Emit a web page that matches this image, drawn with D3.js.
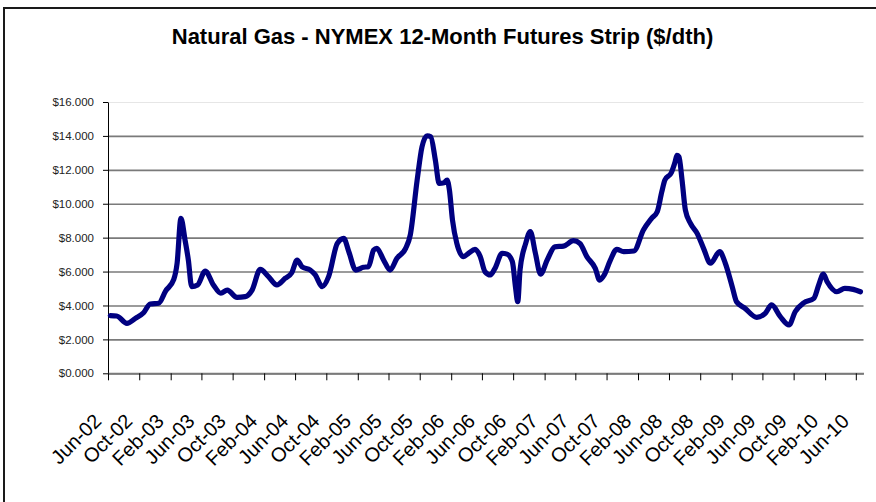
<!DOCTYPE html>
<html>
<head>
<meta charset="utf-8">
<script src="https://cdn.jsdelivr.net/npm/d3@7"></script>
<style>
  body { margin: 0; background: #fff; }
  svg { display: block; font-family: "Liberation Sans", Arial, sans-serif; }
</style>
</head>
<body>
<svg width="876" height="502"></svg>
<script>
'use strict'

const title = 'Natural Gas - NYMEX 12-Month Futures Strip ($/dth)'

// dates and prices
const dates = [
  '2002-06-10', '2002-07-05', '2002-08-14', '2002-09-16', '2002-10-18', '2002-11-13', '2002-12-16',
  '2003-01-12', '2003-02-13', '2003-02-26', '2003-03-13', '2003-03-29', '2003-04-11', '2003-04-24',
  '2003-05-17', '2003-06-16', '2003-07-18', '2003-08-16', '2003-09-10', '2003-10-18', '2003-11-19',
  '2003-12-16', '2004-01-17', '2004-02-18', '2004-03-22', '2004-04-23', '2004-05-19', '2004-06-09',
  '2004-06-28', '2004-07-30', '2004-08-19', '2004-09-15', '2004-10-10', '2004-11-13', '2004-12-08',
  '2004-12-28', '2005-01-24', '2005-02-23', '2005-03-15', '2005-04-04', '2005-04-16', '2005-05-13',
  '2005-06-07', '2005-07-04', '2005-08-07', '2005-08-25', '2005-09-21', '2005-10-10', '2005-10-30',
  '2005-11-13', '2005-12-01', '2005-12-16', '2006-01-04', '2006-01-16', '2006-01-25', '2006-02-06',
  '2006-02-23', '2006-03-21', '2006-04-10', '2006-05-05', '2006-05-25', '2006-06-13', '2006-07-04',
  '2006-07-22', '2006-08-19', '2006-09-07', '2006-09-28', '2006-10-10', '2006-10-19', '2006-10-28',
  '2006-11-19', '2006-12-07', '2006-12-27', '2007-01-16', '2007-02-11', '2007-03-13', '2007-04-16',
  '2007-05-25', '2007-06-19', '2007-07-16', '2007-08-18', '2007-09-04', '2007-09-22', '2007-10-16',
  '2007-11-10', '2007-12-07', '2008-01-16', '2008-02-22', '2008-03-25', '2008-04-16', '2008-05-04',
  '2008-05-16', '2008-06-10', '2008-06-25', '2008-07-02', '2008-07-10', '2008-07-22', '2008-08-04',
  '2008-08-24', '2008-09-19', '2008-10-14', '2008-11-10', '2008-12-16', '2009-01-07', '2009-02-03',
  '2009-02-20', '2009-03-25', '2009-05-10', '2009-06-12', '2009-07-07', '2009-08-10', '2009-09-13',
  '2009-10-07', '2009-11-10', '2009-12-19', '2010-01-07', '2010-01-25', '2010-02-09', '2010-03-19',
  '2010-04-19', '2010-05-22', '2010-06-19'
]
const prices = [
  3.40, 3.38, 2.95, 3.24, 3.57, 4.09, 4.13,
  4.85, 5.54, 6.49, 9.14, 7.86, 6.68, 5.11,
  5.21, 6.03, 5.21, 4.72, 4.91, 4.48, 4.52,
  4.91, 6.13, 5.70, 5.21, 5.60, 5.93, 6.68,
  6.29, 6.09, 5.80, 5.11, 5.70, 7.66, 7.96,
  7.17, 6.09, 6.25, 6.29, 7.27, 7.37, 6.68,
  6.09, 6.78, 7.37, 8.15, 11.40, 13.36, 14.01,
  13.95, 12.58, 11.20, 11.24, 11.40, 10.81, 9.04,
  7.66, 6.88, 7.08, 7.31, 6.90, 5.99, 5.80,
  6.19, 7.08, 7.03, 6.58, 5.11, 4.22, 6.09,
  7.66, 8.35, 7.08, 5.85, 6.68, 7.46, 7.50,
  7.82, 7.66, 6.88, 6.19, 5.50, 5.80, 6.68,
  7.31, 7.17, 7.21, 8.45, 9.14, 9.53, 10.71,
  11.40, 11.83, 12.48, 12.85, 12.77, 11.40, 9.63,
  8.84, 8.25, 7.37, 6.49, 7.17, 6.49, 5.11,
  4.22, 3.83, 3.30, 3.54, 4.03, 3.34, 2.85,
  3.63, 4.16, 4.42, 5.21, 5.85, 5.40, 4.81,
  5.01, 4.95, 4.81
]

const xTickLabels = [
  'Jun-02', 'Oct-02', 'Feb-03', 'Jun-03', 'Oct-03', 'Feb-04', 'Jun-04', 'Oct-04', 'Feb-05',
  'Jun-05', 'Oct-05', 'Feb-06', 'Jun-06', 'Oct-06', 'Feb-07', 'Jun-07', 'Oct-07', 'Feb-08',
  'Jun-08', 'Oct-08', 'Feb-09', 'Jun-09', 'Oct-09', 'Feb-10', 'Jun-10'
]
const yTicks = [0, 2, 4, 6, 8, 10, 12, 14, 16]

const parseDay = d3.timeParse('%Y-%m-%d')
const parseTick = d3.timeParse('%b-%y')

let points = dates.map((d, i) => ({ date: parseDay(d), price: prices[i] }))
let tickDates = xTickLabels.map(parseTick)

const svg = d3.select('svg')

let plotLeft = 108
let plotRight = 863.5
let plotTop = 102
let plotBottom = 373.3

let scaleX = d3.scaleTime()
  .domain([new Date(2002, 5, 1), new Date(2010, 6, 1)])
  .range([plotLeft, plotRight])

let scaleY = d3.scaleLinear()
  .domain([0, 16])
  .range([plotBottom, plotTop])

// outer frame
svg.append('rect')
  .attr('x', 4).attr('y', 8)
  .attr('width', 900).attr('height', 520)
  .style('fill', 'none').style('stroke', '#1a1a1a').style('stroke-width', 2)

svg.append('text')
  .attr('x', 442.5).attr('y', 44)
  .attr('text-anchor', 'middle')
  .style('font-size', '22px').style('font-weight', 'bold')
  .text(title)

// gridlines
svg.append('g')
  .attr('transform', `translate(${plotLeft}, 0)`)
  .call(d3.axisLeft(scaleY).tickValues(yTicks).tickSize(-(plotRight - plotLeft)).tickFormat(''))
  .call(g => g.select('.domain').remove())
  .call(g => g.selectAll('.tick line')
    .style('stroke', d => d === 16 ? '#e6e6e6' : '#7a7a7a')
    .style('stroke-width', d => d === 16 ? 1 : 1.6))

// y axis
svg.append('g')
  .attr('transform', `translate(${plotLeft}, 0)`)
  .call(d3.axisLeft(scaleY).tickValues(yTicks).tickSize(5).tickSizeOuter(0)
    .tickFormat(d => '$' + d3.format('.3f')(d)))
  .call(g => g.select('.domain').style('stroke', '#000'))
  .call(g => g.selectAll('.tick line').style('stroke', '#000'))
  .call(g => g.selectAll('.tick text')
    .attr('x', -14)
    .style('font-size', '11.5px').style('fill', '#222')
    .style('font-family', '"Liberation Sans", Arial, sans-serif'))

// x axis
svg.append('g')
  .attr('transform', `translate(0, ${plotBottom})`)
  .call(d3.axisBottom(scaleX).tickValues(tickDates).tickSize(7).tickSizeOuter(0)
    .tickFormat((d, i) => xTickLabels[i]))
  .call(g => g.select('.domain').style('stroke', '#7a7a7a').style('stroke-width', 2))
  .call(g => g.selectAll('.tick line').style('stroke', '#000'))
  .call(g => g.selectAll('.tick text')
    .attr('text-anchor', 'end')
    .attr('x', null).attr('y', null).attr('dy', null)
    .attr('transform', 'translate(-6, 49) rotate(-45)')
    .style('font-size', '20px').style('fill', '#000')
    .style('font-family', '"Liberation Sans", Arial, sans-serif'))

let lineF = d3.line()
  .x(d => scaleX(d.date))
  .y(d => scaleY(d.price))
  .curve(d3.curveMonotoneX)

svg.append('path')
  .datum(points)
  .attr('d', lineF)
  .style('fill', 'none')
  .style('stroke', '#000080')
  .style('stroke-width', 5.2)
  .style('stroke-linejoin', 'round')
  .style('stroke-linecap', 'round')
</script>
</body>
</html>
